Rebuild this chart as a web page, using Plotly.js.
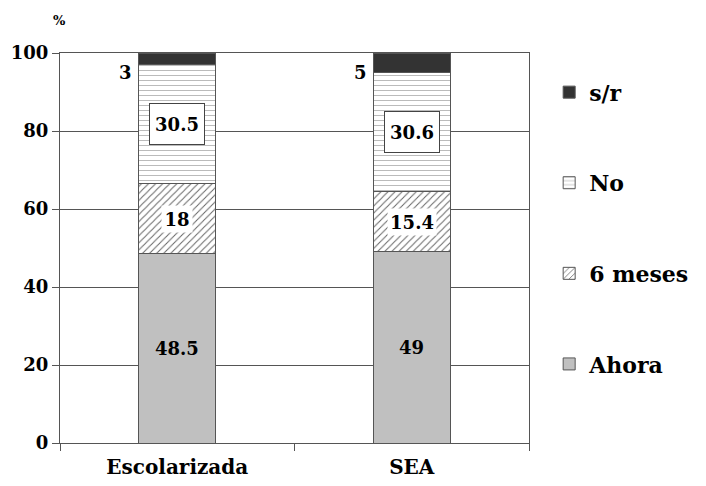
<!DOCTYPE html>
<html>
<head>
<meta charset="utf-8">
<script src="https://cdn.plot.ly/plotly-3.0.1.min.js"></script>
<style>html,body{margin:0;padding:0;background:#fff;}#chart{width:706px;height:486px;}</style>
</head>
<body>
<div id="chart"></div>
<script>
const categories = ['Escolarizada', 'SEA'];
const seriesNames = ['Ahora', '6 meses', 'No', 's/r'];
const ahora = [48.5, 49];
const seisMeses = [18, 15.4];
const no = [30.5, 30.6];
const sr = [3, 5];
const yTicks = [0, 20, 40, 60, 80, 100];

const FONT = 'DejaVu Serif, serif';
const lineStyle = {color: '#555', width: 1};

const series = [ahora, seisMeses, no, sr];
const markers = [
  {color: '#c0c0c0', line: lineStyle},
  {color: '#ffffff', line: lineStyle, pattern: {shape: '/', fgcolor: '#666', bgcolor: '#fff', size: 5, solidity: 0.2}},
  {color: '#ffffff', line: lineStyle, pattern: {shape: '-', fgcolor: '#bbb', bgcolor: '#fff', size: 5, solidity: 0.2}},
  {color: '#333333', line: lineStyle}
];

const traces = series.map((vals, i) => ({
  type: 'bar',
  name: seriesNames[i],
  x: categories,
  y: vals,
  marker: markers[i],
  width: 0.33,
  legendgroup: 'g' + i,
  legendrank: 10 - i,
  hoverinfo: 'none'
}));

// labels at segment midpoints
const annotations = [];
categories.forEach((c, ci) => {
  let base = 0;
  series.forEach((vals, si) => {
    const v = vals[ci];
    const mid = base + v / 2;
    const txt = String(v);
    if (si === 0) {
      annotations.push({x: c, y: mid, text: txt, showarrow: false,
        font: {family: FONT, size: 18, color: '#000', weight: 'bold'}});
    } else if (si === 1) {
      annotations.push({x: c, y: mid, text: txt, showarrow: false, bgcolor: '#fff',
        width: ci === 0 ? 28 : 46, height: 24,
        font: {family: FONT, size: 18, color: '#000', weight: 'bold'}});
    } else if (si === 2) {
      annotations.push({x: c, y: mid, text: txt, showarrow: false, bgcolor: '#fff',
        bordercolor: '#444', borderwidth: 1, width: 52, height: 38,
        font: {family: FONT, size: 18, color: '#000', weight: 'bold'}});
    } else {
      annotations.push({x: c, y: 95, text: txt, showarrow: false, xanchor: 'right',
        xshift: -43,
        font: {family: FONT, size: 18, color: '#000', weight: 'bold'}});
    }
    base += v;
  });
});
annotations.push({xref: 'paper', yref: 'paper', x: -0.02, y: 1.06, yanchor: 'bottom',
  text: '%', showarrow: false, font: {family: FONT, size: 13, color: '#000', weight: 'bold'}});

const layout = {
  width: 706, height: 486,
  margin: {l: 60, r: 175, t: 53, b: 43, pad: 0},
  barmode: 'stack',
  paper_bgcolor: '#fff', plot_bgcolor: '#fff',
  font: {family: FONT, color: '#000'},
  xaxis: {
    type: 'category', tickson: 'boundaries', ticks: 'outside', ticklen: 7,
    tickcolor: '#555', showline: true, linecolor: '#555', mirror: true,
    showgrid: false, range: [-0.5, 1.5], ticklabelstandoff: 6,
    tickfont: {family: FONT, size: 20, weight: 'bold', color: '#000'}
  },
  yaxis: {
    range: [0, 100], tickvals: yTicks, ticktext: yTicks.map(String),
    ticks: 'outside', ticklen: 7, tickcolor: '#555',
    showline: true, linecolor: '#555', mirror: true,
    showgrid: true, gridcolor: '#555', gridwidth: 1, zeroline: false,
    tickfont: {family: FONT, size: 18, weight: 'bold', color: '#000'}
  },
  legend: {
    x: 1.043, xanchor: 'left', y: 0.953, yanchor: 'top',
    traceorder: 'grouped', tracegroupgap: 59,
    font: {family: FONT, size: 22, weight: 'bold', color: '#000'},
    bgcolor: 'rgba(0,0,0,0)'
  },
  annotations: annotations,
  showlegend: true
};

Plotly.newPlot('chart', traces, layout, {displayModeBar: false, staticPlot: true});
</script>
</body>
</html>
